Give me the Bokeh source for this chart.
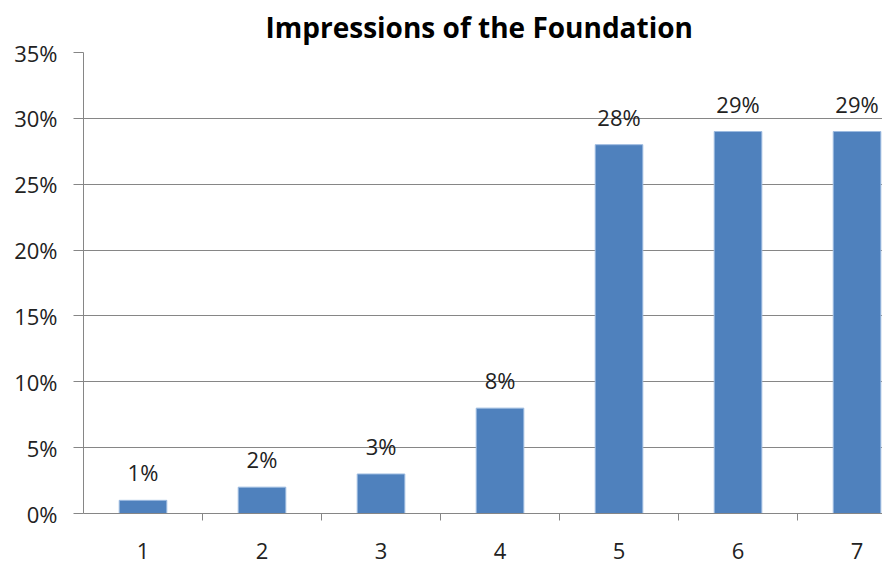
from bokeh.plotting import figure
from bokeh.models import ColumnDataSource, LabelSet, FixedTicker, NumeralTickFormatter, Range1d, Title
from bokeh.core.properties import value
from bokeh.embed import file_html
from bokeh.resources import INLINE

# Survey ratings 1-7 and the share of respondents for each
ratings = [1, 2, 3, 4, 5, 6, 7]
shares = [0.01, 0.02, 0.03, 0.08, 0.28, 0.29, 0.29]
share_labels = ["1%", "2%", "3%", "8%", "28%", "29%", "29%"]
y_ticks = [0, 0.05, 0.10, 0.15, 0.20, 0.25, 0.30, 0.35]
chart_title = "Impressions of the Foundation"

src = ColumnDataSource(dict(x=ratings, top=shares, label=share_labels))

p = figure(width=882, height=565, output_backend="svg", toolbar_location=None,
           x_range=Range1d(0.5, 7.214), y_range=Range1d(0, 0.35),
           min_border_left=83, min_border_right=0, min_border_top=52, min_border_bottom=52)
p.outline_line_color = None
p.background_fill_color = "white"
p.border_fill_color = "white"

p.title = Title(text=chart_title, align="left", offset=182, vertical_align="top",
                text_font="Open Sans", text_font_size="28px", text_font_style="bold",
                text_color="#000000", standoff=10)

axis_gray = "#868686"
text_font = "Open Sans"
text_color = "#222222"

p.vbar(x="x", top="top", width=0.4, source=src, fill_color="#4F81BD",
       line_color="#9dbbe0", line_width=1)

p.add_layout(LabelSet(x="x", y="top", text="label", source=src, y_offset=19,
                      text_align="center", text_baseline="alphabetic",
                      text_font=value(text_font), text_font_size=value("22px"),
                      text_color=text_color))

# y axis: percent ticks with outward tick marks
p.yaxis.ticker = FixedTicker(ticks=y_ticks)
p.yaxis.formatter = NumeralTickFormatter(format="0%")
p.yaxis.axis_line_color = axis_gray
p.yaxis.major_tick_line_color = axis_gray
p.yaxis.major_tick_out = 10
p.yaxis.major_tick_in = 0
p.yaxis.minor_tick_line_color = None
p.yaxis.major_label_standoff = 16
p.yaxis.major_label_text_font = text_font
p.yaxis.major_label_text_font_size = "22px"
p.yaxis.major_label_text_color = text_color

# x axis: labels at category centres, tick marks between categories
p.xaxis.ticker = FixedTicker(ticks=ratings, minor_ticks=[1.5, 2.5, 3.5, 4.5, 5.5, 6.5, 7.5])
p.xaxis.axis_line_color = axis_gray
p.xaxis.major_tick_line_color = None
p.xaxis.minor_tick_line_color = axis_gray
p.xaxis.minor_tick_out = 7
p.xaxis.minor_tick_in = 0
p.xaxis.major_label_standoff = 22
p.xaxis.major_label_text_font = text_font
p.xaxis.major_label_text_font_size = "22px"
p.xaxis.major_label_text_color = text_color

p.xgrid.grid_line_color = None
p.ygrid.grid_line_color = axis_gray
p.ygrid.grid_line_width = 1

open("out.html", "w").write(file_html(p, INLINE))
